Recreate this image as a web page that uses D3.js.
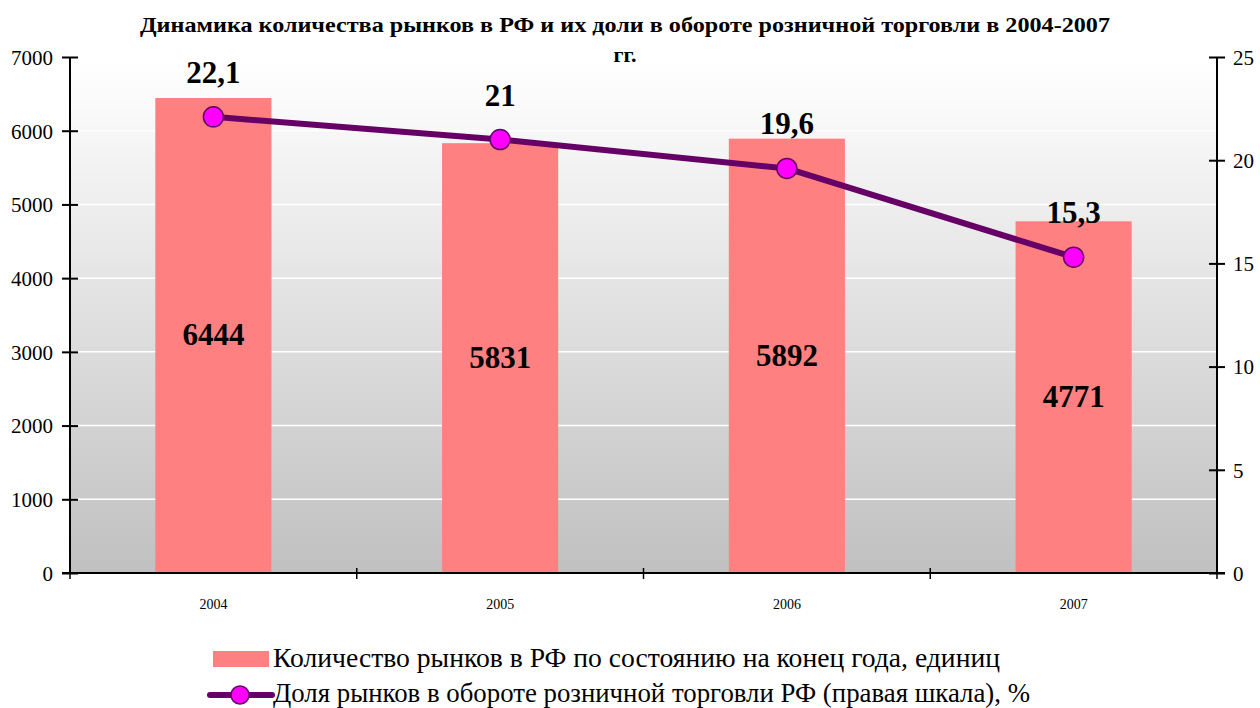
<!DOCTYPE html>
<html><head><meta charset="utf-8">
<script src="https://cdn.jsdelivr.net/npm/d3@7"></script>
<style>body{margin:0;background:#fff}svg{display:block}</style>
</head><body>
<svg id="c" width="1260" height="708"></svg>
<script>
const categories = ["2004","2005","2006","2007"];
const marketCount = [6444,5831,5892,4771];
const shareValues = [22.1,21,19.6,15.3];
const shareLabels = ["22,1","21","19,6","15,3"];
const leftTicks = [0,1000,2000,3000,4000,5000,6000,7000];
const rightTicks = [0,5,10,15,20,25];
const titleLines = ["Динамика количества рынков в РФ и их доли в обороте розничной торговли в 2004-2007","гг."];
const legendLabels = ["Количество рынков в РФ по состоянию на конец года, единиц","Доля рынков в обороте розничной торговли РФ (правая шкала), %"];

const FONT = '"Liberation Serif"';
const svg = d3.select("#c");
const L = 70, R = 1217, T = 57, B = 573;
const x = d3.scaleBand().domain(categories).range([L,R]).padding(0);
const yL = d3.scaleLinear().domain([0,7000]).range([B,T]);
const yR = d3.scaleLinear().domain([0,25]).range([B,T]);

const defs = svg.append("defs");
const g = defs.append("linearGradient").attr("id","bg").attr("x1",0).attr("y1",0).attr("x2",0).attr("y2",1);
g.append("stop").attr("offset","0").attr("stop-color","#ffffff");
g.append("stop").attr("offset","0.08").attr("stop-color","#fbfbfb");
g.append("stop").attr("offset","1").attr("stop-color","#c0c0c0");
svg.append("rect").attr("x",L).attr("y",yL(7000)).attr("width",R-L).attr("height",B-yL(7000)).attr("fill","url(#bg)");

// gridlines
svg.append("g").selectAll("line").data(leftTicks.filter(d=>d>0 && d<7000)).join("line")
  .attr("x1",L).attr("x2",R).attr("y1",d=>yL(d)).attr("y2",d=>yL(d))
  .attr("stroke","#ffffff").attr("stroke-width",1.5);

// bars
const bw = x.bandwidth()*0.405;
svg.append("g").selectAll("rect").data(categories).join("rect")
  .attr("x",(d)=>x(d)+x.bandwidth()/2-bw/2).attr("width",bw)
  .attr("y",(d,i)=>yL(marketCount[i])).attr("height",(d,i)=>B-yL(marketCount[i]))
  .attr("fill","#ff8080");

// bar labels
svg.append("g").selectAll("text").data(categories).join("text")
  .attr("x",d=>x(d)+x.bandwidth()/2).attr("y",(d,i)=>(yL(marketCount[i])+B)/2+10)
  .attr("text-anchor","middle").style("font-family",FONT).style("font-size","31px").style("font-weight","bold")
  .text((d,i)=>marketCount[i]);

// axes
const axL = svg.append("g").attr("transform",`translate(${L},0)`)
  .call(d3.axisLeft(yL).tickValues(leftTicks).tickSize(8).tickFormat(d=>d));
axL.select(".domain").attr("stroke","#000").attr("stroke-width",2).attr("d",`M0,${T}V${B}`);
axL.selectAll(".tick line").attr("x1",-8).attr("x2",8).attr("stroke-width",2);
axL.selectAll(".tick text").attr("x",-17).style("font-family",FONT).style("font-size","21px").attr("fill","#000").attr("dy","0.35em");

const axR = svg.append("g").attr("transform",`translate(${R},0)`)
  .call(d3.axisRight(yR).tickValues(rightTicks).tickSize(8).tickFormat(d=>d));
axR.select(".domain").attr("stroke","#000").attr("stroke-width",2).attr("d",`M0,${T}V${B}`);
axR.selectAll(".tick line").attr("x1",-8).attr("x2",8).attr("stroke-width",2);
axR.selectAll(".tick text").attr("x",16).style("font-family",FONT).style("font-size","21px").attr("fill","#000").attr("dy","0.35em");

const axB = svg.append("g").attr("transform",`translate(0,${B})`)
  .call(d3.axisBottom(x).tickSize(0));
axB.select(".domain").attr("stroke","#000").attr("stroke-width",2).attr("d",`M${L-8},0H${R+8}`);
axB.selectAll(".tick text").attr("y",26).style("font-family",FONT).style("font-size","14px").attr("fill","#000");
const bounds = categories.map(d=>x(d)).concat([R]);
svg.append("g").selectAll("line").data(bounds).join("line")
  .attr("x1",d=>d).attr("x2",d=>d).attr("y1",B-5).attr("y2",B+6).attr("stroke","#000").attr("stroke-width",1.5);

// line
const pts = categories.map((d,i)=>[x(d)+x.bandwidth()/2, yR(shareValues[i])]);
svg.append("path").attr("d",d3.line()(pts)).attr("fill","none").attr("stroke","#660066").attr("stroke-width",6).attr("stroke-linejoin","round");
svg.append("g").selectAll("circle").data(pts).join("circle")
  .attr("cx",d=>d[0]).attr("cy",d=>d[1]).attr("r",10)
  .attr("fill","#ff00ff").attr("stroke","#660066").attr("stroke-width",1.5);
svg.append("g").selectAll("text").data(pts).join("text")
  .attr("x",d=>d[0]).attr("y",d=>d[1]-34)
  .attr("text-anchor","middle").style("font-family",FONT).style("font-size","31px").style("font-weight","bold")
  .text((d,i)=>shareLabels[i]);

// title
svg.append("text").attr("x",140).attr("y",32).style("font-family",FONT).style("font-size","22px").style("font-weight","bold")
  .attr("textLength",970).attr("lengthAdjust","spacingAndGlyphs").text(titleLines[0]);
svg.append("text").attr("x",625).attr("y",62).attr("text-anchor","middle").style("font-family",FONT).style("font-size","22px").style("font-weight","bold").text(titleLines[1]);

// legend
svg.append("rect").attr("x",213).attr("y",651).attr("width",56).attr("height",16).attr("fill","#ff8080");
svg.append("line").attr("x1",210).attr("x2",272).attr("y1",695).attr("y2",695).attr("stroke","#660066").attr("stroke-width",6).attr("stroke-linecap","round");
svg.append("circle").attr("cx",240).attr("cy",695).attr("r",9).attr("fill","#ff00ff").attr("stroke","#660066").attr("stroke-width",1.5);
svg.append("text").attr("x",273).attr("y",667).style("font-family",FONT).style("font-size","27px").attr("textLength",727).attr("lengthAdjust","spacingAndGlyphs").text(legendLabels[0]);
svg.append("text").attr("x",273).attr("y",702).style("font-family",FONT).style("font-size","27px").attr("textLength",757).attr("lengthAdjust","spacingAndGlyphs").text(legendLabels[1]);
</script>
</body></html>
